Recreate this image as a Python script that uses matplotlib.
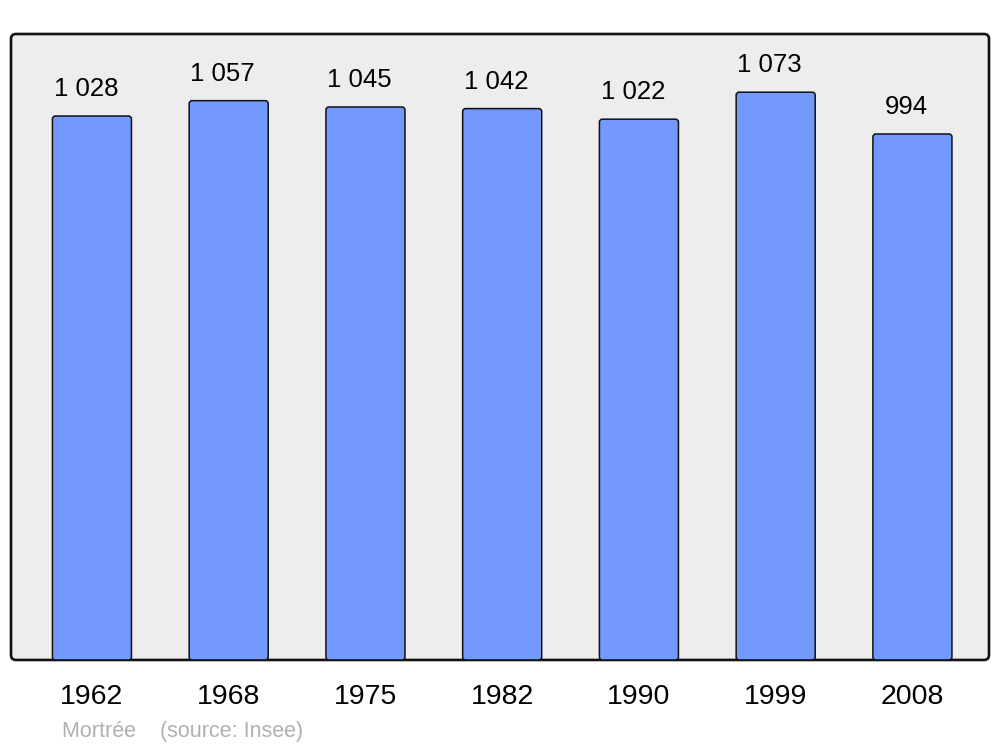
import matplotlib
matplotlib.use("Agg")
import matplotlib.pyplot as plt
from matplotlib.patches import FancyBboxPatch

# --- Data ---
years = ["1962", "1968", "1975", "1982", "1990", "1999", "2008"]
population = [1028, 1057, 1045, 1042, 1022, 1073, 994]
value_labels = ["1 028", "1 057", "1 045", "1 042", "1 022", "1 073", "994"]
source_text = "Mortrée    (source: Insee)"

plt.rcParams['font.family'] = ['Liberation Sans', 'DejaVu Sans']

fig = plt.figure(figsize=(10, 7.47), dpi=100)
ax = fig.add_axes([0.011, 0.1165, 0.978, 0.838])
ax.set_xlim(-0.592, 6.56)
ax.set_ylim(0, 1183)
ax.patch.set_visible(False)
for s in ax.spines.values():
    s.set_visible(False)

# rounded frame of the plot area
ax_w_px, ax_h_px = 978, 626
frame = FancyBboxPatch((0, 0), 1, 1,
                       boxstyle="round,pad=0,rounding_size=%f" % (5 / ax_w_px),
                       mutation_aspect=ax_w_px / ax_h_px,
                       transform=ax.transAxes, facecolor="#ededed",
                       edgecolor="#111111", linewidth=1.9, clip_on=False, zorder=0)
ax.add_patch(frame)

x = list(range(len(years)))
bars = ax.bar(x, population, width=0.578, color="none", edgecolor="none")

# replace plain bars with slightly rounded ones
px_x = ax_w_px / (ax.get_xlim()[1] - ax.get_xlim()[0])
px_y = ax_h_px / (ax.get_ylim()[1] - ax.get_ylim()[0])
for b in bars:
    p = FancyBboxPatch((b.get_x(), b.get_y()), b.get_width(), b.get_height(),
                       boxstyle="round,pad=0,rounding_size=%f" % (3 / px_x),
                       mutation_aspect=px_x / px_y,
                       facecolor="#7399ff", edgecolor="#111111",
                       linewidth=1.1, zorder=2)
    ax.add_patch(p)

for xi, v, lab in zip(x, population, value_labels):
    ax.annotate(lab, (xi, v), xytext=(-4.3, 10.8), textcoords="offset points",
                ha="center", va="bottom", fontsize=18.5, color="black")

ax.set_xticks(x)
ax.set_xticklabels(years, fontsize=20.5)
ax.tick_params(axis="x", length=0, pad=17)
ax.set_yticks([])

fig.text(0.062, 0.0135, source_text, fontsize=15.5, color="#b0b0b0",
         ha="left", va="baseline")

fig.savefig("out.png", dpi=100)
